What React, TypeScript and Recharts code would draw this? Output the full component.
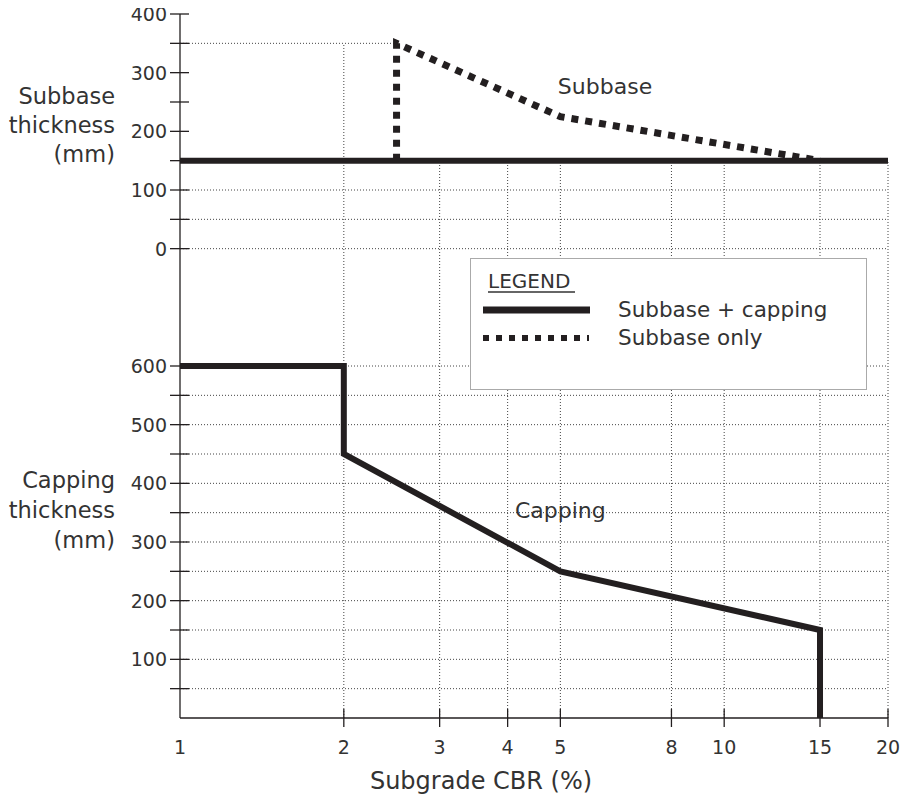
import React from "react";
import {
  LineChart,
  Line,
  XAxis,
  YAxis,
  ReferenceLine,
  ReferenceArea,
  ReferenceDot,
  Legend,
} from "recharts";

// x axis: subgrade CBR (%), log scale
const cbrTicks = [1, 2, 3, 4, 5, 8, 10, 15, 20];

// y axis ticks, both panels (mm)
const subbaseTicks = [0, 50, 100, 150, 200, 250, 300, 350, 400];
const cappingTicks = [50, 100, 150, 200, 250, 300, 350, 400, 450, 500, 550, 600];

// series
const combinedCbr = [1, 20];
const combinedSubbase = [150, 150];
const subbaseOnlyCbr = [2.5, 2.5, 5, 15];
const subbaseOnlyThickness = [150, 350, 225, 150];
const cappingCbr = [1, 2, 2, 5, 15, 15];
const cappingThickness = [600, 600, 450, 250, 150, 0];

// dotted grid
const gridCbr = [2, 3, 4, 5, 8, 10, 15, 20];
const subbaseGrid = [0, 50, 100];
const cappingGrid = [50, 100, 150, 200, 250, 300, 350, 400, 450, 500, 550, 600];

// subbase panel sits above the capping panel on one shared axis
const SUBBASE_OFFSET = 800;
const sb = (v: number) => v + SUBBASE_OFFSET;

const FONT = "'DejaVu Sans', sans-serif";
const INK = "#231f20";
const TEXT = "#333";
const DOT = "1 2";

const toPoints = (xs: number[], ys: number[], shift = 0) =>
  xs.map((x, i) => ({ cbr: x, y: ys[i] + shift }));

const combinedData = toPoints(combinedCbr, combinedSubbase, SUBBASE_OFFSET);
const subbaseOnlyData = toPoints(subbaseOnlyCbr, subbaseOnlyThickness, SUBBASE_OFFSET);
const cappingData = toPoints(cappingCbr, cappingThickness);

const yTicks = [...cappingTicks, ...subbaseTicks.map(sb)];

const XTick = (props: any) => {
  const { x, y, payload } = props;
  const axisY = y - 8;
  return (
    <g>
      {payload.value !== 1 && (
        <line x1={x} x2={x} y1={axisY - 9} y2={axisY + 9} stroke={INK} strokeWidth={1.3} />
      )}
      <text x={x} y={axisY + 36} textAnchor="middle" fontFamily={FONT} fontSize={19} fill={TEXT}>
        {payload.value}
      </text>
    </g>
  );
};

const YTick = (props: any) => {
  const { x, y, payload } = props;
  const axisX = x + 8;
  const raw = payload.value >= SUBBASE_OFFSET ? payload.value - SUBBASE_OFFSET : payload.value;
  const major = raw % 100 === 0;
  return (
    <g>
      <line x1={axisX - 10} x2={axisX + 9} y1={y} y2={y} stroke={INK} strokeWidth={1.3} />
      {major && (
        <text x={axisX - 13} y={y} dy="0.36em" textAnchor="end" fontFamily={FONT} fontSize={19} fill={TEXT}>
          {raw}
        </text>
      )}
    </g>
  );
};

const YTitles = (props: any) => {
  const vb = props.viewBox || { x: 120, y: 14 };
  const right = vb.x - 5;
  const line = (txt: string, dy: number) => (
    <text key={txt + dy} x={right} y={vb.y + dy} textAnchor="end" fontFamily={FONT} fontSize={22.5} fill={TEXT}>
      {txt}
    </text>
  );
  return (
    <g>
      {line("Subbase", 90)}
      {line("thickness", 119)}
      {line("(mm)", 148)}
      {line("Capping", 474)}
      {line("thickness", 504)}
      {line("(mm)", 534)}
    </g>
  );
};

const XTitle = (props: any) => {
  const vb = props.viewBox || { x: 180, y: 718, width: 708 };
  return (
    <text x={481} y={vb.y + 71} textAnchor="middle" fontFamily={FONT} fontSize={24} fill={TEXT}>
      Subgrade CBR (%)
    </text>
  );
};

const LegendBox = () => (
  <div
    style={{
      width: 397,
      height: 132,
      boxSizing: "border-box",
      border: "1.5px solid #aaa",
      background: "#fff",
    }}
  >
    <svg width={394} height={129} style={{ display: "block" }}>
      <text x={17} y={29} fontFamily={FONT} fontSize={20} fill={TEXT}>
        LEGEND
      </text>
      <line x1={17} x2={104} y1={33} y2={33} stroke={TEXT} strokeWidth={1.3} />
      <line x1={12} x2={119} y1={51} y2={51} stroke={INK} strokeWidth={7} />
      <text x={147} y={58} fontFamily={FONT} fontSize={21.5} fill={TEXT}>
        Subbase + capping
      </text>
      <line x1={12} x2={118} y1={79} y2={79} stroke={INK} strokeWidth={6} strokeDasharray="6 7" />
      <text x={147} y={86} fontFamily={FONT} fontSize={21.5} fill={TEXT}>
        Subbase only
      </text>
    </svg>
  </div>
);

export default function App() {
  return (
    <div style={{ width: 913, height: 795, margin: "-8px 0 0 -8px", background: "#fff" }}>
      <LineChart
        width={913}
        height={795}
        margin={{ top: 14, right: 25, left: 120, bottom: 0 }}
        style={{ fontFamily: FONT }}
      >
        <XAxis
          dataKey="cbr"
          type="number"
          scale="log"
          domain={[1, 20]}
          ticks={cbrTicks}
          interval={0}
          allowDataOverflow
          height={77}
          tickSize={6}
          tickMargin={2}
          tickLine={false}
          tick={<XTick />}
          axisLine={{ stroke: INK, strokeWidth: 1.3 }}
          label={{ content: <XTitle /> }}
        />
        <YAxis
          type="number"
          domain={[0, 1200]}
          ticks={yTicks}
          interval={0}
          allowDataOverflow
          width={60}
          tickSize={6}
          tickMargin={2}
          tickLine={false}
          tick={<YTick />}
          axisLine={{ stroke: INK, strokeWidth: 1.3 }}
          label={{ content: <YTitles /> }}
        />

        {cappingGrid.map((v) => (
          <ReferenceLine key={"cg" + v} y={v} stroke="#444" strokeDasharray={DOT} />
        ))}
        {subbaseGrid.map((v) => (
          <ReferenceLine key={"sg" + v} y={sb(v)} stroke="#444" strokeDasharray={DOT} />
        ))}
        {gridCbr.map((c) => (
          <ReferenceLine
            key={"vg" + c}
            segment={[
              { x: c, y: 0 },
              { x: c, y: c === 2 ? sb(350) : sb(150) },
            ]}
            stroke="#444"
            strokeDasharray={DOT}
          />
        ))}
        <ReferenceLine
          segment={[
            { x: 1, y: sb(350) },
            { x: 2.5, y: sb(350) },
          ]}
          stroke="#444"
          strokeDasharray={DOT}
        />

        <ReferenceArea x1={3.91} x2={6.44} y1={307} y2={387} fill="#fff" fillOpacity={1} stroke="none" />
        <ReferenceDot
          x={5}
          y={355}
          r={0}
          fill="none"
          stroke="none"
          label={{ value: "Capping", position: "center", fontSize: 22, fill: TEXT, fontFamily: FONT }}
        />
        <ReferenceDot
          x={6.04}
          y={sb(277)}
          r={0}
          fill="none"
          stroke="none"
          label={{ value: "Subbase", position: "center", fontSize: 22, fill: TEXT, fontFamily: FONT }}
        />

        <Line
          data={subbaseOnlyData}
          dataKey="y"
          stroke={INK}
          strokeWidth={7}
          strokeDasharray="7 7"
          dot={false}
          activeDot={false}
          isAnimationActive={false}
        />
        <Line
          data={combinedData}
          dataKey="y"
          stroke={INK}
          strokeWidth={6}
          dot={false}
          activeDot={false}
          isAnimationActive={false}
        />
        <Line
          data={cappingData}
          dataKey="y"
          stroke={INK}
          strokeWidth={6}
          strokeLinejoin="miter"
          dot={false}
          activeDot={false}
          isAnimationActive={false}
        />

        <Legend
          layout="horizontal"
          verticalAlign="middle"
          align="center"
          content={<LegendBox />}
          wrapperStyle={{ left: 470, top: 258, width: 397, height: 132 }}
        />
      </LineChart>
    </div>
  );
}
